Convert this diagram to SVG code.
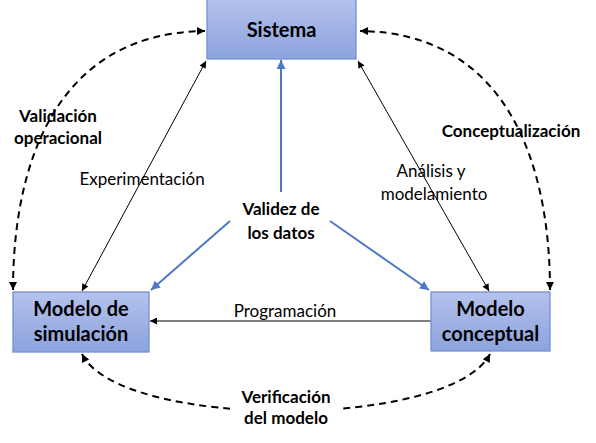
<svg xmlns="http://www.w3.org/2000/svg" width="596" height="443" viewBox="0 0 596 443">
<style>
text{font-family:Lato,"Liberation Sans",sans-serif;fill:#000}
.box{fill:url(#g);stroke:#7390d4;stroke-width:1.3}
.bl{font-size:20px;font-weight:bold;text-anchor:middle}
.lb{font-size:17px;font-weight:bold;text-anchor:middle}
.ln{font-size:17px;text-anchor:middle}
.thin{fill:none;stroke:#000;stroke-width:1;marker-start:url(#ah);marker-end:url(#ah)}
.dash{fill:none;stroke:#000;stroke-width:2;stroke-dasharray:7 5;marker-start:url(#ad);marker-end:url(#ad)}
.blue{fill:none;stroke:#4d78c6;stroke-width:2;marker-end:url(#ab)}
</style>
<defs>
<linearGradient id="g" x1="0" y1="0" x2="0" y2="1">
<stop offset="0" stop-color="#b4c2ec"/>
<stop offset="1" stop-color="#8da3de"/>
</linearGradient>
<marker id="ah" viewBox="0 0 10 10" refX="10" refY="5" markerWidth="8" markerHeight="7" markerUnits="userSpaceOnUse" orient="auto-start-reverse"><path d="M0,0L10,5L0,10z" fill="#000"/></marker>
<marker id="ad" viewBox="0 0 10 10" refX="10" refY="5" markerWidth="9" markerHeight="8" markerUnits="userSpaceOnUse" orient="auto-start-reverse"><path d="M0,0L10,5L0,10z" fill="#000"/></marker>
<marker id="ab" viewBox="0 0 10 10" refX="10" refY="5" markerWidth="10" markerHeight="9" markerUnits="userSpaceOnUse" orient="auto"><path d="M0,0L10,5L0,10z" fill="#4d78c6"/></marker>
</defs>
<g id="connectors">
<path class="thin" d="M206,61L82,291"/>
<path class="thin" d="M358,61L489,291"/>
<path d="M431,321L150,321" fill="none" stroke="#000" stroke-width="1" marker-end="url(#ah)"/>
<path class="blue" d="M281,192L281,60"/>
<path class="blue" d="M230,221L151,290"/>
<path class="blue" d="M330,221L429,290"/>
<path class="dash" d="M13,290C13,165 55,33 205,31"/>
<path class="dash" d="M550,290C550,165 508,33 360,31"/>
<path class="dash" d="M82,354C120,430 450,430 490,354"/>
<rect x="230" y="386" width="112" height="44" fill="#fff"/>
</g>
<g id="sistema"><rect class="box" x="207" y="-1" width="149" height="60"/><text class="bl" x="281.5" y="37">Sistema</text></g>
<g id="simulacion"><rect class="box" x="13" y="292" width="136" height="60"/><text class="bl" x="81" y="316">Modelo de</text><text class="bl" x="81" y="341">simulación</text></g>
<g id="conceptual"><rect class="box" x="431" y="292" width="119" height="59"/><text class="bl" x="490.5" y="316">Modelo</text><text class="bl" x="490.5" y="341">conceptual</text></g>
<g id="labels">
<text class="lb" x="58" y="122">Validación</text>
<text class="lb" x="58" y="144">operacional</text>
<text class="lb" x="511" y="137">Conceptualización</text>
<text class="ln" x="142" y="185">Experimentación</text>
<text class="ln" x="431" y="177">Análisis y</text>
<text class="ln" x="434" y="200">modelamiento</text>
<text class="lb" x="281" y="215">Validez de</text>
<text class="lb" x="281" y="239">los datos</text>
<text class="ln" x="285" y="317">Programación</text>
<text class="lb" x="286" y="403">Verificación</text>
<text class="lb" x="286" y="424">del modelo</text>
</g>
</svg>
